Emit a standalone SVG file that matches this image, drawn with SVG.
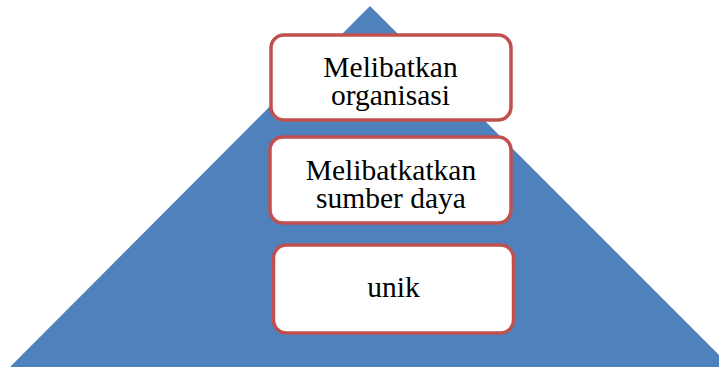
<svg xmlns="http://www.w3.org/2000/svg" width="719" height="368" viewBox="0 0 719 368">
  <style>
    .box { fill: #ffffff; stroke: #c0504d; stroke-width: 3.5; }
    .label { font-family: "Liberation Serif", "Times New Roman", serif; font-size: 29.5px; fill: #000000; text-anchor: middle; }
  </style>
  <!-- background pyramid -->
  <g id="pyramid">
    <polygon points="10,367 370,6 731,367" fill="#4f81bd"/>
  </g>
  <g id="connectors"></g>
  <g id="node-organisasi">
    <rect class="box" x="271" y="35" width="240" height="85" rx="13"/>
    <text class="label" x="390.5" y="76.5">Melibatkan</text>
    <text class="label" x="390.5" y="105">organisasi</text>
  </g>
  <g id="node-sumber-daya">
    <rect class="box" x="270" y="137" width="241" height="86" rx="13"/>
    <text class="label" x="391" y="179.5">Melibatkatkan</text>
    <text class="label" x="391" y="208">sumber daya</text>
  </g>
  <g id="node-unik">
    <rect class="box" x="273.5" y="245" width="240" height="88" rx="13"/>
    <text class="label" x="393.5" y="297">unik</text>
  </g>
</svg>
